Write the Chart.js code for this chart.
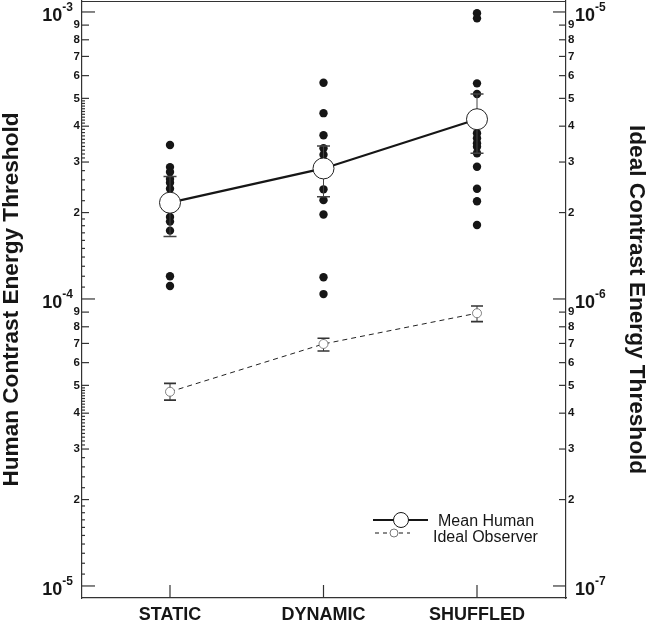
<!DOCTYPE html>
<html>
<head>
<meta charset="utf-8">
<script src="https://cdn.jsdelivr.net/npm/chart.js@4.4.1/dist/chart.umd.min.js"></script>
<style>
  html, body { margin: 0; padding: 0; background: #fff; }
  #wrap { width: 648px; height: 623px; }
</style>
</head>
<body>
<div id="wrap"><canvas id="chart" width="648" height="623"></canvas></div>
<script>
const categories = ['STATIC', 'DYNAMIC', 'SHUFFLED'];

// individual observers (human contrast energy threshold)
const staticObservers = [3.44e-4, 2.88e-4, 2.77e-4, 2.62e-4, 2.54e-4, 2.42e-4, 1.93e-4, 1.86e-4, 1.73e-4, 1.20e-4, 1.11e-4];
const dynamicObservers = [5.67e-4, 4.44e-4, 3.72e-4, 3.35e-4, 3.18e-4, 2.41e-4, 2.21e-4, 1.97e-4, 1.19e-4, 1.04e-4];
const shuffledObservers = [9.9e-4, 9.5e-4, 5.64e-4, 5.18e-4, 3.78e-4, 3.63e-4, 3.49e-4, 3.39e-4, 3.22e-4, 2.89e-4, 2.42e-4, 2.19e-4, 1.81e-4];

const meanHuman = [2.165e-4, 2.85e-4, 4.23e-4];
const meanHumanLow = [1.65e-4, 2.27e-4, 3.22e-4];
const meanHumanHigh = [2.67e-4, 3.41e-4, 5.18e-4];

// ideal observer, right axis
const idealObserver = [4.75e-7, 6.97e-7, 8.92e-7];
const idealLow = [4.44e-7, 6.59e-7, 8.34e-7];
const idealHigh = [5.08e-7, 7.30e-7, 9.45e-7];

// axis ticks
const humanDecades = [-5, -4, -3];
const idealDecades = [-7, -6, -5];
const labelledSteps = [2, 3, 4, 5, 6, 7, 8, 9];
const minorSteps = [1.1, 1.2, 1.3, 1.4, 1.5, 1.6, 1.7, 1.8, 1.9, 2.2, 2.4, 2.6, 2.8,
  3.1, 3.2, 3.3, 3.4, 3.5, 3.6, 3.7, 3.8, 3.9, 4.1, 4.2, 4.3, 4.4, 4.5, 4.6, 4.7, 4.8, 4.9];

const INK = '#161616';
const AXIS = '#333';
const FONT = '"Liberation Sans", Arial, Helvetica, sans-serif';

const logTicks = (exps) => {
    const out = [];
    exps.forEach((e, k) => {
        const base = Math.pow(10, e);
        out.push({ value: base, major: true });
        if (k < exps.length - 1) labelledSteps.forEach(s => out.push({ value: s * base }));
    });
    return out;
};

const mantissaLabel = (value) => {
    const m = Math.round(value / Math.pow(10, Math.floor(Math.log10(value) + 1e-9)));
    return m === 1 ? '' : String(m);
};

const toPoints = (values, x) => values.map(v => ({ x, y: v }));
const observerPoints = [
    ...toPoints(staticObservers, 1),
    ...toPoints(dynamicObservers, 2),
    ...toPoints(shuffledObservers, 3)
];

// error bars under the mean markers
const errorBars = {
    id: 'errorBars',
    beforeDatasetDraw(chart, args) {
        const ds = chart.data.datasets[args.index];
        if (!ds.errLow) return;
        const { ctx } = chart;
        const xs = chart.scales.x;
        const ys = chart.scales[ds.yAxisID];
        ctx.save();
        ctx.strokeStyle = ds.errColor;
        ds.errLow.forEach((lo, i) => {
            const px = xs.getPixelForValue(i + 1);
            const y0 = ys.getPixelForValue(lo);
            const y1 = ys.getPixelForValue(ds.errHigh[i]);
            ctx.lineWidth = 1;
            ctx.beginPath();
            ctx.moveTo(px, y0);
            ctx.lineTo(px, y1);
            ctx.stroke();
            ctx.lineWidth = 1.6;
            ctx.beginPath();
            ctx.moveTo(px - ds.capHalf, y0); ctx.lineTo(px + ds.capHalf, y0);
            ctx.moveTo(px - ds.capHalf, y1); ctx.lineTo(px + ds.capHalf, y1);
            ctx.stroke();
        });
        ctx.restore();
    }
};

// inward tick marks, decade labels, frame and legend
const decorations = {
    id: 'decorations',
    afterDraw(chart) {
        const { ctx, chartArea: a } = chart;
        const ys = chart.scales.y, y2 = chart.scales.y2, xs = chart.scales.x;
        ctx.save();
        ctx.strokeStyle = AXIS;
        ctx.lineWidth = 1.2;
        ctx.beginPath();
        ctx.moveTo(a.left, a.top + 0.5);
        ctx.lineTo(a.right, a.top + 0.5);
        ctx.stroke();

        const tick = (x0, x1, y) => { ctx.beginPath(); ctx.moveTo(x0, y); ctx.lineTo(x1, y); ctx.stroke(); };

        // left axis
        humanDecades.forEach((e, k) => {
            const base = Math.pow(10, e);
            tick(a.left, a.left + 13, ys.getPixelForValue(base));
            if (k === humanDecades.length - 1) return;
            labelledSteps.forEach(s => tick(a.left, a.left + 7, ys.getPixelForValue(s * base)));
            minorSteps.forEach(s => tick(a.left, a.left + 3, ys.getPixelForValue(s * base)));
        });
        // right axis
        idealDecades.forEach((e, k) => {
            const base = Math.pow(10, e);
            tick(a.right - 13, a.right, y2.getPixelForValue(base));
            if (k === idealDecades.length - 1) return;
            labelledSteps.forEach(s => tick(a.right - 7, a.right, y2.getPixelForValue(s * base)));
        });
        // x axis
        categories.forEach((c, i) => {
            const px = xs.getPixelForValue(i + 1);
            ctx.beginPath(); ctx.moveTo(px, a.bottom); ctx.lineTo(px, a.bottom - 13); ctx.stroke();
        });

        // decade labels 10^n
        ctx.fillStyle = INK;
        ctx.textBaseline = 'alphabetic';
        const bigFont = 'bold 18px ' + FONT;
        const supFont = 'bold 12px ' + FONT;
        humanDecades.forEach(e => {
            const py = ys.getPixelForValue(Math.pow(10, e));
            const sup = '-' + Math.abs(e);
            ctx.font = supFont;
            const w = ctx.measureText(sup).width;
            ctx.textAlign = 'right';
            ctx.fillText(sup, a.left - 9, py - 1);
            ctx.font = bigFont;
            ctx.fillText('10', a.left - 9 - w, py + 9.5);
        });
        idealDecades.forEach(e => {
            const py = y2.getPixelForValue(Math.pow(10, e));
            ctx.font = bigFont;
            ctx.textAlign = 'left';
            const w = ctx.measureText('10').width;
            ctx.fillText('10', a.right + 9, py + 9.5);
            ctx.font = supFont;
            ctx.fillText('-' + Math.abs(e), a.right + 9 + w, py - 1);
        });

        // legend
        const lx = a.right, ly = a.bottom;
        ctx.strokeStyle = INK;
        ctx.lineWidth = 2;
        ctx.setLineDash([]);
        tick(lx - 193, lx - 138, ly - 78);
        ctx.beginPath();
        ctx.arc(lx - 165, ly - 78, 7.5, 0, Math.PI * 2);
        ctx.fillStyle = '#fff'; ctx.fill();
        ctx.lineWidth = 1; ctx.stroke();

        ctx.lineWidth = 1;
        ctx.setLineDash([4, 4]);
        tick(lx - 191, lx - 156, ly - 65);
        ctx.setLineDash([]);
        ctx.beginPath();
        ctx.arc(lx - 172, ly - 65, 4, 0, Math.PI * 2);
        ctx.fillStyle = '#fff'; ctx.fill();
        ctx.strokeStyle = '#555'; ctx.lineWidth = 0.8; ctx.stroke();

        ctx.fillStyle = INK;
        ctx.font = '16px ' + FONT;
        ctx.textAlign = 'left';
        ctx.fillText('Mean Human', lx - 128, ly - 72);
        ctx.fillText('Ideal Observer', lx - 133, ly - 56.5);
        ctx.restore();
    }
};

new Chart(document.getElementById('chart'), {
    type: 'scatter',
    data: {
        datasets: [
            {
                label: 'Observers', data: observerPoints, yAxisID: 'y', order: 3,
                pointRadius: 4.2, pointBackgroundColor: INK, pointBorderWidth: 0, showLine: false
            },
            {
                label: 'Ideal Observer', data: idealObserver.map((v, i) => ({ x: i + 1, y: v })),
                yAxisID: 'y2', order: 2, showLine: true,
                borderColor: '#222', borderWidth: 1, borderDash: [5, 4],
                pointRadius: 4.5, pointBackgroundColor: '#fff', pointBorderColor: '#666', pointBorderWidth: 0.8,
                errLow: idealLow, errHigh: idealHigh, capHalf: 6, errColor: '#333'
            },
            {
                label: 'Mean Human', data: meanHuman.map((v, i) => ({ x: i + 1, y: v })),
                yAxisID: 'y', order: 1, showLine: true,
                borderColor: INK, borderWidth: 2.2,
                pointRadius: 10.5, pointBackgroundColor: '#fff', pointBorderColor: '#222', pointBorderWidth: 1,
                errLow: meanHumanLow, errHigh: meanHumanHigh, capHalf: 6.5, errColor: '#444'
            }
        ]
    },
    options: {
        responsive: false,
        animation: false,
        devicePixelRatio: 1,
        layout: { autoPadding: false, padding: { top: 1, left: 0, right: 0, bottom: 0 } },
        plugins: { legend: { display: false }, tooltip: { enabled: false } },
        scales: {
            x: {
                type: 'linear', position: 'bottom', min: 0.4267, max: 3.5798,
                afterBuildTicks: s => { s.ticks = categories.map((c, i) => ({ value: i + 1 })); },
                afterFit: s => { s.height = 25; s.paddingLeft = 0; s.paddingRight = 0; },
                grid: { display: false, drawTicks: false, tickLength: 0 },
                border: { display: true, color: AXIS, width: 1.2 },
                ticks: {
                    autoSkip: false, maxRotation: 0, padding: 6, color: INK,
                    font: { family: FONT, size: 18, weight: 'bold' },
                    callback: v => categories[Math.round(v) - 1]
                }
            },
            y: {
                type: 'logarithmic', position: 'left', min: 9.08e-6, max: 1.092e-3,
                afterBuildTicks: s => { s.ticks = logTicks(humanDecades); },
                afterFit: s => { s.width = 82; s.paddingTop = 0; s.paddingBottom = 0; },
                grid: { display: false, drawTicks: false, tickLength: 0 },
                border: { display: true, color: AXIS, width: 1.2 },
                ticks: {
                    autoSkip: false, padding: 2, color: INK,
                    font: { family: FONT, size: 11.5, weight: 'bold' },
                    callback: v => mantissaLabel(v)
                },
                title: {
                    display: true, text: 'Human Contrast Energy Threshold', color: INK, padding: 0,
                    font: { family: FONT, size: 22.6, weight: 'bold', lineHeight: 1 }
                }
            },
            y2: {
                type: 'logarithmic', position: 'right', min: 9.08e-8, max: 1.092e-5,
                afterBuildTicks: s => { s.ticks = logTicks(idealDecades); },
                afterFit: s => { s.width = 82; s.paddingTop = 0; s.paddingBottom = 0; },
                grid: { display: false, drawTicks: false, tickLength: 0 },
                border: { display: true, color: AXIS, width: 1.2 },
                ticks: {
                    autoSkip: false, padding: 2, color: INK,
                    font: { family: FONT, size: 11.5, weight: 'bold' },
                    callback: v => mantissaLabel(v)
                },
                title: {
                    display: true, text: 'Ideal Contrast Energy Threshold', color: INK, padding: 0,
                    font: { family: FONT, size: 22.6, weight: 'bold', lineHeight: 1 }
                }
            }
        }
    },
    plugins: [errorBars, decorations]
});
</script>
</body>
</html>
